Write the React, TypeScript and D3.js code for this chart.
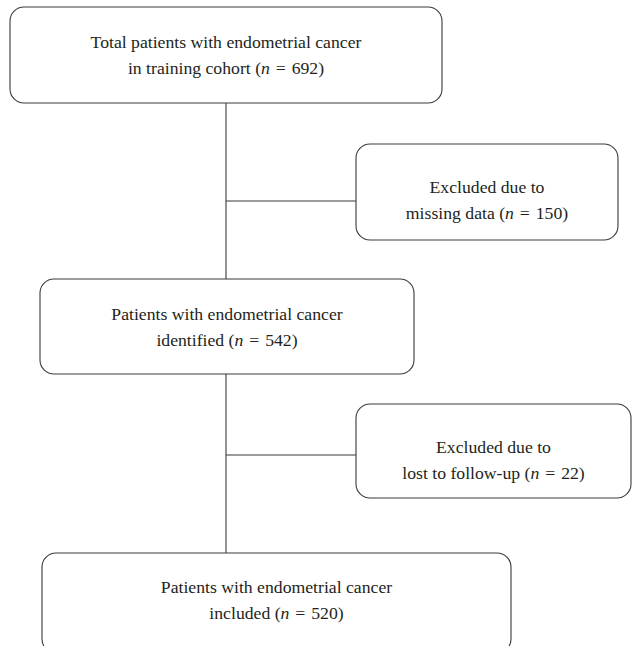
import React from 'react';
import * as d3 from 'd3';

// flow steps: label lines, count shown as (n = ...)
const mainLabels = [
  ['Total patients with endometrial cancer', 'in training cohort'],
  ['Patients with endometrial cancer', 'identified'],
  ['Patients with endometrial cancer', 'included'],
];
const mainCounts = [692, 542, 520];

const excludedLabels = [
  ['Excluded due to', 'missing data'],
  ['Excluded due to', 'lost to follow-up'],
];
const excludedCounts = [150, 22];

// layout (pixels)
const W = 632;
const H = 646;
const spineX = 226;
const mainBoxes = [
  { x: 10, y: 7, w: 432, h: 96 },
  { x: 40, y: 279, w: 374, h: 95 },
  { x: 42, y: 553, w: 469, h: 100 },
];
const sideBoxes = [
  { x: 356, y: 144, w: 262, h: 96 },
  { x: 356, y: 404, w: 275, h: 94 },
];
const branchY = [201, 455];
const mainBaselines = [48, 320, 593];
const sideBaselines = [193, 453];
const lineGap = 26;

const stroke = '#3a3a3a';
const textColor = '#231f20';
const font = '"Liberation Serif", "DejaVu Serif", serif';
const fontSize = 17.7;

const BoxText: React.FC<{ cx: number; y: number; lines: string[]; count: number }> = ({ cx, y, lines, count }) => (
  <text textAnchor="middle" fontFamily={font} fontSize={fontSize} fill={textColor}>
    <tspan x={cx} y={y}>{lines[0]}</tspan>
    <tspan x={cx} y={y + lineGap}>
      {lines[1] + ' ('}
      <tspan fontStyle="italic">n</tspan>
      {'\u2004=\u2004' + count + ')'}
    </tspan>
  </text>
);

export default function App() {
  const link = d3.line<[number, number]>();

  // vertical spine segments between main boxes
  const spine = mainBoxes.slice(0, -1).map((b, i) => {
    const next = mainBoxes[i + 1];
    return link([[spineX, b.y + b.h], [spineX, next.y]]);
  });

  // horizontal branches to exclusion boxes
  const branches = sideBoxes.map((b, i) => link([[spineX, branchY[i]], [b.x, branchY[i]]]));

  return (
    <svg width={W} height={H} style={{ position: 'absolute', left: 0, top: 0, background: '#fff' }}>
      {spine.map((d, i) => (
        <path key={'s' + i} d={d ?? ''} stroke={stroke} strokeWidth={1.1} fill="none" />
      ))}
      {branches.map((d, i) => (
        <path key={'b' + i} d={d ?? ''} stroke={stroke} strokeWidth={1.1} fill="none" />
      ))}
      {mainBoxes.map((b, i) => (
        <g key={'m' + i}>
          <rect x={b.x} y={b.y} width={b.w} height={b.h} rx={14} ry={14} fill="#fff" stroke={stroke} strokeWidth={1.1} />
          <BoxText cx={b.x + b.w / 2} y={mainBaselines[i]} lines={mainLabels[i]} count={mainCounts[i]} />
        </g>
      ))}
      {sideBoxes.map((b, i) => (
        <g key={'e' + i}>
          <rect x={b.x} y={b.y} width={b.w} height={b.h} rx={14} ry={14} fill="#fff" stroke={stroke} strokeWidth={1.1} />
          <BoxText cx={b.x + b.w / 2} y={sideBaselines[i]} lines={excludedLabels[i]} count={excludedCounts[i]} />
        </g>
      ))}
    </svg>
  );
}
